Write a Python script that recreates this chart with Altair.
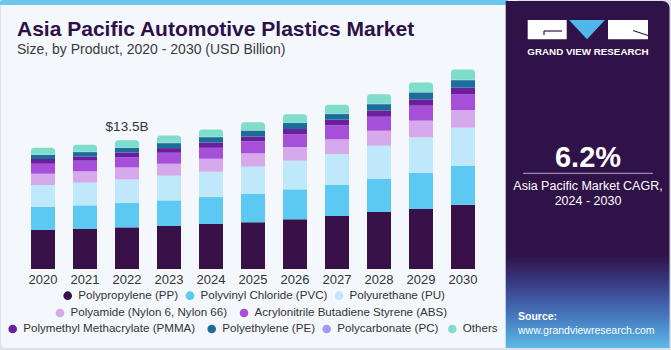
import altair as alt
import pandas as pd

# ---------------- data ----------------
years = ["2020", "2021", "2022", "2023", "2024", "2025", "2026", "2027", "2028", "2029", "2030"]
products = [
    "Polypropylene (PP)", "Polyvinyl Chloride (PVC)", "Polyurethane (PU)",
    "Polyamide (Nylon 6, Nylon 66)", "Acrylonitrile Butadiene Styrene (ABS)",
    "Polymethyl Methacrylate (PMMA)", "Polyethylene (PE)", "Polycarbonate (PC)", "Others",
]
pp = [4.09, 4.20, 4.37, 4.51, 4.72, 4.90, 5.21, 5.56, 5.98, 6.30, 6.75]
pvc = [2.45, 2.48, 2.55, 2.69, 2.83, 3.01, 3.15, 3.29, 3.50, 3.81, 4.09]
pu = [2.27, 2.38, 2.48, 2.59, 2.66, 2.83, 3.01, 3.22, 3.46, 3.71, 3.99]
pa = [1.19, 1.19, 1.26, 1.26, 1.36, 1.40, 1.43, 1.54, 1.57, 1.75, 1.85]
abs_ = [1.05, 1.12, 1.05, 1.15, 1.15, 1.26, 1.33, 1.47, 1.47, 1.57, 1.64]
pmma = [0.49, 0.45, 0.52, 0.49, 0.56, 0.49, 0.56, 0.59, 0.66, 0.66, 0.73]
pe = [0.42, 0.45, 0.49, 0.52, 0.56, 0.63, 0.63, 0.59, 0.66, 0.73, 0.77]
pc = [0.03, 0.03, 0.03, 0.03, 0.03, 0.03, 0.04, 0.04, 0.04, 0.04, 0.04]
others = [0.73, 0.73, 0.77, 0.77, 0.77, 0.84, 0.87, 0.94, 1.01, 1.01, 1.08]
series = [pp, pvc, pu, pa, abs_, pmma, pe, pc, others]
colors = ["#381149", "#5BC9F1", "#BFE8FA", "#D6A9EC", "#A64FD8", "#6B1FA0", "#1C6E9A", "#9E9CF2", "#7FDDCB"]

label_year = ["2022"]
label_value = [13.5]
label_text = ["$13.5B"]

# ---------------- layout (pixels) ----------------
OX, OY = 22, 59          # plot origin on page
PW, PH = 462, 210        # plot size
YMAX = 22.04

rows = []
for i, (name, vals) in enumerate(zip(products, series)):
    for y, v in zip(years, vals):
        rows.append({"year": y, "product": name, "value": v, "order": i})
df = pd.DataFrame(rows)

one = pd.DataFrame({"d": [0]})
FONT = "Liberation Sans"


def px(x):
    return x - OX


def py(y):
    return y - OY


def rect(x1, x2, y1, y2, fill, **kw):
    return alt.Chart(one).mark_rect(fill=fill, **kw).encode(
        x=alt.value(px(x1)), x2=alt.value(px(x2)), y=alt.value(py(y1)), y2=alt.value(py(y2)))


def txt(s, x, y, size, color, weight="normal", align="left", baseline="alphabetic", **kw):
    return alt.Chart(one).mark_text(text=s, fontSize=size, color=color, fontWeight=weight,
                                    align=align, baseline=baseline, font=FONT, **kw).encode(
        x=alt.value(px(x)), y=alt.value(py(y)))


def rule(x1, y1, x2, y2, color, w):
    return alt.Chart(one).mark_rule(color=color, strokeWidth=w).encode(
        x=alt.value(px(x1)), y=alt.value(py(y1)), x2=alt.value(px(x2)), y2=alt.value(py(y2)))


# ---------------- decoration ----------------
card = rect(1, 520, 0, 348, "#F4F7FB", cornerRadius=4)
stripe = rect(0, 508, 0, 5, "#6DC6EC", cornerRadiusTopLeft=4)
panel_grad = alt.Gradient(
    gradient="linear", x1=0, x2=0, y1=0, y2=1,
    stops=[
        alt.GradientStop(offset=0, color="#2F1247"),
        alt.GradientStop(offset=0.73, color="#2F1247"),
        alt.GradientStop(offset=0.81, color="#3A3983"),
        alt.GradientStop(offset=0.91, color="#4679BF"),
        alt.GradientStop(offset=1, color="#5CBAE6"),
    ],
)
panel = alt.Chart(one).mark_rect(fill=panel_grad, cornerRadiusTopRight=7).encode(
    x=alt.value(px(505.7)), x2=alt.value(px(669.5)), y=alt.value(py(1)), y2=alt.value(py(348)))

logo_l = rect(527.7, 566.7, 20, 39.3, "#FFFFFF")
logo_r = rect(608, 648, 20, 39.3, "#FFFFFF")
tri = alt.Chart(one).mark_point(
    shape="M -1 -0.536 L 1 -0.536 L 0 0.536 Z", size=1296, filled=True,
    fill="#4FB7EA", opacity=1, strokeWidth=0).encode(
    x=alt.value(px(587)), y=alt.value(py(29.65)))
g1 = rule(544, 31, 562, 31, "#2F1247", 1.2)
g2 = rule(544, 31, 544, 35, "#2F1247", 1.2)
r1 = rule(633, 30.5, 648, 35.5, "#2F1247", 1.2)
gvr = txt("GRAND VIEW RESEARCH", 588, 54.7, 9.8, "#FFFFFF", weight="bold", align="center")

cagr = txt("6.2%", 588, 167, 29, "#FFFFFF", weight="bold", align="center")
cagr_line = rule(523, 173.3, 653, 173.3, "#B7A6CF", 1)
cagr1 = txt("Asia Pacific Market CAGR,", 588, 190, 12.5, "#FFFFFF", align="center")
cagr2 = txt("2024 - 2030", 588, 205, 12.5, "#FFFFFF", align="center")
src1 = txt("Source:", 518, 320, 10.5, "#FFFFFF", weight="bold")
src2 = txt("www.grandviewresearch.com", 518, 334, 10.5, "#FFFFFF")

title = txt("Asia Pacific Automotive Plastics Market", 17, 35.5, 21, "#2D1048", weight="bold")
subtitle = txt("Size, by Product, 2020 - 2030 (USD Billion)", 17, 54.3, 14, "#3A3A3A")

# ---------------- bars ----------------
xscale = alt.Scale(domain=years, paddingInner=0.4286, paddingOuter=0.2143)
yscale = alt.Scale(domain=[0, YMAX], nice=False, zero=True)
xaxis = alt.Axis(title=None, labelAngle=0, domain=False, ticks=False, labelFont=FONT,
                 labelFontSize=13, labelColor="#333333", labelPadding=4, zindex=1)
cscale = alt.Scale(domain=products, range=colors)

base = alt.Chart(df).transform_stack(
    stack="value", as_=["v0", "v1"], groupby=["year"],
    sort=[alt.SortField("order", order="ascending")])

enc = dict(
    x=alt.X("year:N", scale=xscale, axis=xaxis, sort=years),
    y=alt.Y("v1:Q", scale=yscale, axis=None),
    y2="v0:Q",
    color=alt.Color("product:N", scale=cscale, legend=None),
)
bars = base.transform_filter(alt.datum.order < 8).mark_bar(strokeWidth=0).encode(**enc)
tops = base.transform_filter(alt.datum.order == 8).mark_bar(
    strokeWidth=0, cornerRadiusTopLeft=3, cornerRadiusTopRight=3).encode(**enc)

lab_df = pd.DataFrame({"year": label_year, "total": label_value, "text": label_text})
label = alt.Chart(lab_df).mark_text(
    font=FONT, fontSize=13.5, color="#333333", baseline="alphabetic", dy=-9.5).encode(
    x=alt.X("year:N", scale=xscale, axis=xaxis, sort=years),
    y=alt.Y("total:Q", scale=yscale, axis=None),
    text="text:N")

# ---------------- legend (manual, centred rows) ----------------
leg_x = [67.7, 190, 339, 60, 244, 12.7, 211.7, 326.7, 452.3]
leg_y = [295.7, 295.7, 295.7, 313, 313, 329, 329, 329, 329]
legend_layers = []
for name, col, lx, ly in zip(products, colors, leg_x, leg_y):
    legend_layers.append(
        alt.Chart(one).mark_point(filled=True, opacity=1, size=75, shape="circle",
                                  fill=col, strokeWidth=0).encode(
            x=alt.value(px(lx)), y=alt.value(py(ly))))
    legend_layers.append(txt(name, lx + 10.5, ly, 11.6, "#333333", baseline="middle"))

chart = alt.layer(
    card, stripe, panel, logo_l, logo_r, tri, g1, g2, r1, gvr,
    cagr, cagr_line, cagr1, cagr2, src1, src2, title, subtitle,
    bars, tops, label, *legend_layers,
).properties(
    width=PW, height=PH, autosize=alt.AutoSizeParams(type="none"),
    padding={"left": OX, "top": OY, "right": 671 - OX - PW, "bottom": 350 - OY - PH},
    background="#DDE0E4",
).configure_view(stroke=None)

chart.save("out.html", embed_options={"renderer": "svg", "actions": False})
